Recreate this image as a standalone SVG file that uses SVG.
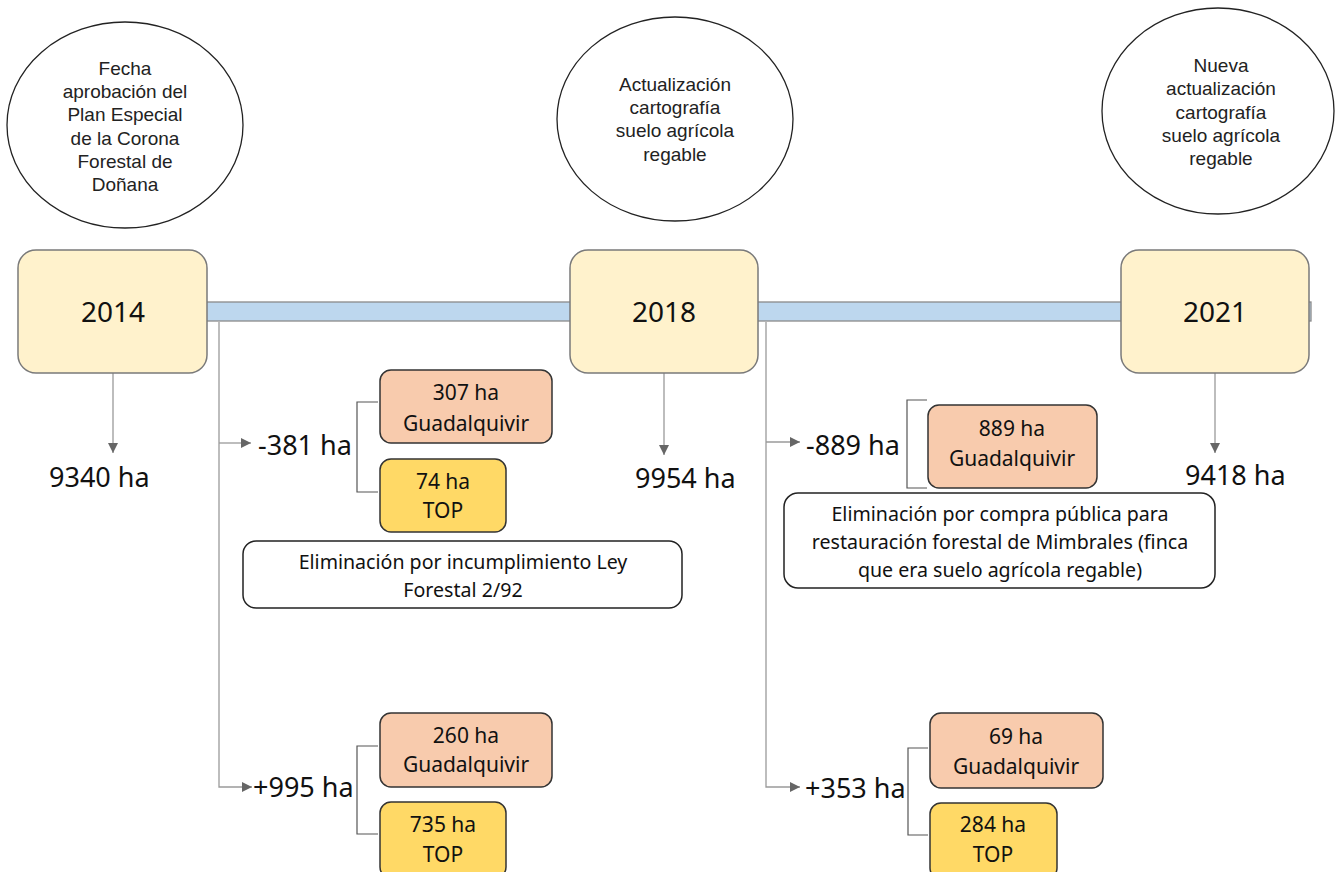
<svg xmlns="http://www.w3.org/2000/svg" width="1335" height="872" viewBox="0 0 1335 872">
<style>
.ell{fill:#fff;stroke:#222;stroke-width:1.3}
.et{font-family:"Liberation Sans",Arial,sans-serif;font-size:19px;fill:#222;text-anchor:middle}
.yr{fill:#fff2cc;stroke:#7a7a7a;stroke-width:1.5}
.yt{font-family:"Noto Sans","Open Sans",sans-serif;font-size:28px;fill:#111;text-anchor:middle}
.ha{font-family:"Noto Sans","Open Sans",sans-serif;font-size:27px;fill:#111}
.pe{fill:#f8cbad;stroke:#333;stroke-width:1.5}
.go{fill:#ffd966;stroke:#333;stroke-width:1.5}
.wb{fill:#fff;stroke:#222;stroke-width:1.5}
.bt{font-family:"Noto Sans","Open Sans",sans-serif;font-size:21px;fill:#111;text-anchor:middle}
.nt{font-family:"Noto Sans","Open Sans",sans-serif;font-size:19.6px;fill:#111;text-anchor:middle}
.ln{fill:none;stroke:#9a9a9a;stroke-width:1.3}
.br{fill:none;stroke:#555;stroke-width:1.2}
</style>
<defs>
<marker id="ah" viewBox="0 0 10 10" refX="10" refY="5" markerWidth="10" markerHeight="10" markerUnits="userSpaceOnUse" orient="auto">
<path d="M0,0 L10,5 L0,10 z" fill="#666"/>
</marker>
</defs>
<rect x="0" y="0" width="1335" height="872" fill="#fff"/>

<g id="timeline">
<rect x="200" y="302" width="1111" height="19" fill="#bdd7ee" stroke="#8a8a8a" stroke-width="1.3"/>
</g>

<g id="connectors">
<line class="ln" x1="113" y1="373" x2="113" y2="453" marker-end="url(#ah)"/>
<line class="ln" x1="664" y1="373" x2="664" y2="455" marker-end="url(#ah)"/>
<line class="ln" x1="1215" y1="373" x2="1215" y2="453" marker-end="url(#ah)"/>
<path class="ln" d="M219,322 V787 H252" marker-end="url(#ah)"/>
<line class="ln" x1="219" y1="443" x2="251" y2="443" marker-end="url(#ah)"/>
<path class="ln" d="M766,322 V787 H800" marker-end="url(#ah)"/>
<line class="ln" x1="766" y1="442" x2="800" y2="442" marker-end="url(#ah)"/>
<path class="br" d="M378,402 H357 V492 H378"/>
<path class="br" d="M378,746 H357 V834 H378"/>
<path class="br" d="M927,400 H907 V488 H927"/>
<path class="br" d="M928,748 H908 V835 H928"/>
</g>

<g id="ellipse-2014">
<ellipse class="ell" cx="125" cy="125" rx="118" ry="103"/>
<text class="et" x="125" y="75">Fecha</text>
<text class="et" x="125" y="98">aprobación del</text>
<text class="et" x="125" y="121">Plan Especial</text>
<text class="et" x="125" y="145">de la Corona</text>
<text class="et" x="125" y="168">Forestal de</text>
<text class="et" x="125" y="191">Doñana</text>
</g>
<g id="ellipse-2018">
<ellipse class="ell" cx="675" cy="119" rx="118" ry="102"/>
<text class="et" x="675" y="91">Actualización</text>
<text class="et" x="675" y="114">cartografía</text>
<text class="et" x="675" y="137">suelo agrícola</text>
<text class="et" x="675" y="161">regable</text>
</g>
<g id="ellipse-2021">
<ellipse class="ell" cx="1218" cy="111" rx="116" ry="103"/>
<text class="et" x="1221" y="72">Nueva</text>
<text class="et" x="1221" y="95">actualización</text>
<text class="et" x="1221" y="119">cartografía</text>
<text class="et" x="1221" y="142">suelo agrícola</text>
<text class="et" x="1221" y="165">regable</text>
</g>

<g id="year-2014">
<rect class="yr" x="18" y="250" width="189" height="123" rx="18"/>
<text class="yt" x="113" y="322">2014</text>
</g>
<g id="year-2018">
<rect class="yr" x="570" y="250" width="188" height="123" rx="18"/>
<text class="yt" x="664" y="322">2018</text>
</g>
<g id="year-2021">
<rect class="yr" x="1121" y="250" width="188" height="123" rx="18"/>
<text class="yt" x="1215" y="322">2021</text>
</g>

<g id="total-2014"><text class="ha" x="49" y="487">9340 ha</text></g>
<g id="total-2018"><text class="ha" x="635" y="488">9954 ha</text></g>
<g id="total-2021"><text class="ha" x="1185" y="485">9418 ha</text></g>

<g id="minus-381">
<text class="ha" x="258" y="455">-381 ha</text>
</g>
<g id="box-307">
<rect class="pe" x="380" y="370" width="172" height="73" rx="11"/>
<text class="bt" x="466" y="400">307 ha</text>
<text class="bt" x="466" y="431">Guadalquivir</text>
</g>
<g id="box-74">
<rect class="go" x="380" y="459" width="126" height="73" rx="11"/>
<text class="bt" x="443" y="489">74 ha</text>
<text class="bt" x="443" y="518">TOP</text>
</g>
<g id="note-2014">
<rect class="wb" x="243" y="541" width="439" height="67" rx="13"/>
<text class="nt" x="463" y="569">Eliminación por incumplimiento Ley</text>
<text class="nt" x="463" y="597">Forestal 2/92</text>
</g>

<g id="plus-995">
<text class="ha" x="253" y="797">+995 ha</text>
</g>
<g id="box-260">
<rect class="pe" x="380" y="713" width="172" height="74" rx="11"/>
<text class="bt" x="466" y="743">260 ha</text>
<text class="bt" x="466" y="772">Guadalquivir</text>
</g>
<g id="box-735">
<rect class="go" x="380" y="802" width="126" height="76" rx="11"/>
<text class="bt" x="443" y="832">735 ha</text>
<text class="bt" x="443" y="862">TOP</text>
</g>

<g id="minus-889">
<text class="ha" x="806" y="455">-889 ha</text>
</g>
<g id="box-889">
<rect class="pe" x="928" y="405" width="169" height="83" rx="11"/>
<text class="bt" x="1012" y="436">889 ha</text>
<text class="bt" x="1012" y="466">Guadalquivir</text>
</g>
<g id="note-2018">
<rect class="wb" x="784" y="493" width="431" height="95" rx="14"/>
<text class="nt" x="1000" y="521">Eliminación por compra pública para</text>
<text class="nt" x="1000" y="549">restauración forestal de Mimbrales (finca</text>
<text class="nt" x="1000" y="577">que era suelo agrícola regable)</text>
</g>

<g id="plus-353">
<text class="ha" x="805" y="798">+353 ha</text>
</g>
<g id="box-69">
<rect class="pe" x="930" y="713" width="173" height="75" rx="11"/>
<text class="bt" x="1016" y="744">69 ha</text>
<text class="bt" x="1016" y="774">Guadalquivir</text>
</g>
<g id="box-284">
<rect class="go" x="930" y="803" width="127" height="76" rx="11"/>
<text class="bt" x="993" y="832">284 ha</text>
<text class="bt" x="993" y="862">TOP</text>
</g>
</svg>
